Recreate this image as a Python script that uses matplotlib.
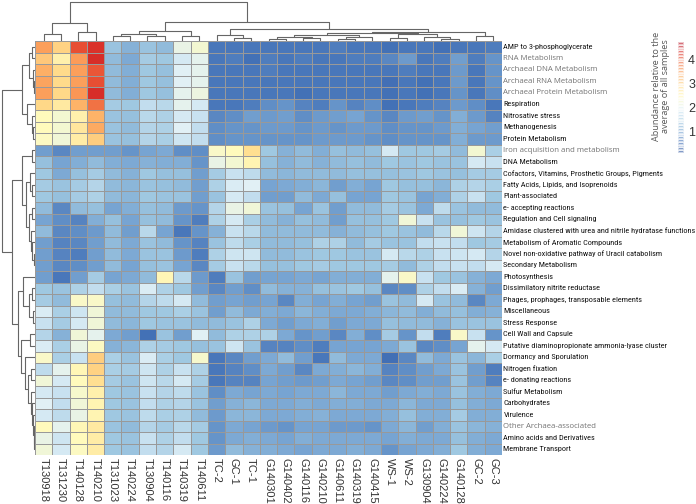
import os
import numpy as np
import matplotlib
matplotlib.use("Agg")
import matplotlib.pyplot as plt
from matplotlib.colors import LinearSegmentedColormap, Normalize
from matplotlib import font_manager as fm
from matplotlib.font_manager import FontProperties

col_labels = ["T130918", "T131230", "T140128", "T140210", "T131023", "T140224", "T130904",
              "T140116", "T140319", "T140611", "TC-2", "GC-1", "TC-1", "G140301", "G140402",
              "G140116", "G140210", "G140611", "G140319", "G140415", "WS-1", "WS-2",
              "G130904", "G140224", "G140128", "GC-2", "GC-3"]

row_labels = ["AMP to 3-phosphoglycerate", "RNA Metabolism", "Archaeal DNA Metabolism",
              "Archaeal RNA Metabolism", "Archaeal Protein Metabolism", "Respiration",
              "Nitrosative stress", "Methanogenesis", "Protein Metabolism",
              "Iron acquisition and metabolism", "DNA Metabolism",
              "Cofactors, Vitamins, Prosthetic Groups, Pigments",
              "Fatty Acids, Lipids, and Isoprenoids", "Plant-associated", "e- accepting reactions",
              "Regulation and Cell signaling",
              "Amidase clustered with urea and nitrile hydratase functions",
              "Metabolism of Aromatic Compounds",
              "Novel non-oxidative pathway of Uracil catabolism", "Secondary Metabolism",
              "Photosynthesis", "Dissimilatory nitrite reductase",
              "Phages, prophages, transposable elements", "Miscellaneous", "Stress Response",
              "Cell Wall and Capsule", "Putative diaminopropionate ammonia-lyase cluster",
              "Dormancy and Sporulation", "Nitrogen fixation", "e- donating reactions",
              "Sulfur Metabolism", "Carbohydrates", "Virulence", "Other Archaea-associated",
              "Amino acids and Derivatives", "Membrane Transport"]

gray_rows = ["RNA Metabolism", "Archaeal DNA Metabolism", "Archaeal RNA Metabolism",
             "Archaeal Protein Metabolism", "Iron acquisition and metabolism",
             "Other Archaea-associated"]

values = [
    [3.5, 3.0, 4.1, 4.3, 1.35, 1.15, 1.35, 1.25, 2.1, 2.25, 0.6, 0.6, 0.6, 0.6, 0.6, 0.6, 0.6, 0.65, 0.6, 0.6, 0.55, 0.6, 0.6, 0.55, 0.6, 0.6, 0.65],
    [3.1, 2.6, 3.55, 4.35, 1.25, 1.05, 1.45, 1.4, 1.9, 2.05, 0.6, 0.65, 0.55, 0.65, 0.6, 0.65, 0.6, 0.6, 0.65, 0.65, 0.75, 0.9, 0.6, 0.65, 0.95, 0.65, 0.85],
    [3.35, 2.9, 3.5, 4.05, 1.25, 1.1, 1.4, 1.3, 2.0, 2.05, 0.6, 0.6, 0.6, 0.65, 0.6, 0.6, 0.6, 0.6, 0.6, 0.6, 0.6, 0.65, 0.6, 0.6, 0.9, 0.6, 0.85],
    [3.45, 2.9, 3.5, 4.1, 1.25, 1.1, 1.4, 1.3, 2.0, 2.05, 0.6, 0.6, 0.6, 0.6, 0.6, 0.6, 0.6, 0.6, 0.6, 0.6, 0.5, 0.6, 0.55, 0.6, 0.9, 0.6, 0.85],
    [3.5, 2.95, 3.6, 4.35, 1.25, 1.1, 1.4, 1.3, 2.05, 2.15, 0.6, 0.6, 0.6, 0.6, 0.6, 0.55, 0.6, 0.6, 0.6, 0.6, 0.55, 0.6, 0.55, 0.6, 0.85, 0.6, 0.8],
    [2.95, 2.7, 3.3, 3.85, 1.45, 1.4, 1.75, 1.65, 2.05, 1.9, 0.6, 0.6, 0.65, 0.8, 0.85, 0.7, 0.65, 0.85, 0.7, 0.8, 0.55, 0.6, 0.65, 0.7, 0.9, 0.8, 0.6],
    [2.45, 2.25, 2.6, 3.3, 1.35, 1.3, 1.65, 1.55, 1.9, 1.8, 0.75, 0.8, 0.95, 0.9, 0.95, 0.8, 0.9, 0.95, 1.0, 0.85, 0.75, 0.9, 0.95, 0.85, 1.1, 0.9, 0.7],
    [2.45, 2.25, 2.75, 3.4, 1.35, 1.25, 1.6, 1.55, 2.0, 1.75, 0.8, 0.85, 0.85, 0.9, 0.9, 0.85, 0.9, 0.85, 0.9, 0.9, 0.8, 0.85, 0.85, 0.9, 1.1, 1.0, 0.95],
    [2.4, 2.2, 2.65, 3.05, 1.35, 1.3, 1.6, 1.5, 1.85, 1.75, 0.8, 0.85, 0.85, 0.85, 0.85, 0.85, 0.9, 0.9, 0.9, 0.85, 0.8, 0.85, 0.85, 0.85, 1.1, 0.9, 0.9],
    [0.95, 0.75, 0.95, 0.95, 0.95, 0.85, 1.0, 1.05, 0.8, 0.8, 2.35, 2.45, 2.85, 1.4, 1.15, 1.25, 1.1, 1.3, 1.25, 1.3, 1.9, 1.4, 1.4, 1.45, 1.25, 2.25, 1.5],
    [1.3, 1.0, 1.1, 1.25, 1.1, 1.05, 1.15, 1.1, 1.1, 0.85, 2.1, 2.25, 2.55, 1.3, 1.15, 1.25, 1.15, 1.25, 1.3, 1.25, 1.4, 1.35, 1.4, 1.35, 1.35, 1.9, 1.8],
    [1.4, 1.05, 1.3, 1.45, 1.25, 1.15, 1.4, 1.3, 1.3, 0.95, 1.45, 1.8, 1.7, 1.25, 1.2, 1.25, 1.25, 1.25, 1.3, 1.3, 1.3, 1.35, 1.4, 1.35, 1.3, 1.45, 1.45],
    [1.45, 1.35, 1.45, 1.6, 1.25, 1.2, 1.35, 1.3, 1.25, 0.95, 1.55, 1.95, 2.0, 1.0, 1.05, 1.1, 1.2, 0.95, 1.1, 1.0, 1.4, 1.3, 1.3, 1.2, 1.55, 1.6, 1.5],
    [1.4, 1.3, 1.45, 1.55, 1.25, 1.2, 1.4, 1.35, 1.35, 0.95, 1.35, 1.9, 1.75, 0.95, 0.95, 1.25, 1.05, 1.3, 1.0, 1.0, 1.4, 1.35, 1.0, 1.1, 1.55, 1.8, 1.4],
    [1.25, 0.75, 1.25, 1.3, 1.0, 1.1, 1.3, 1.25, 0.9, 0.85, 1.6, 2.1, 2.2, 1.35, 1.3, 1.0, 1.35, 0.95, 1.25, 1.25, 1.45, 1.35, 1.05, 1.7, 1.35, 1.25, 1.25],
    [1.0, 0.8, 0.7, 1.1, 1.3, 1.0, 1.3, 1.25, 0.85, 0.65, 1.55, 1.9, 1.5, 1.25, 1.15, 1.3, 1.25, 0.95, 1.3, 1.3, 1.4, 2.2, 1.8, 1.35, 1.3, 1.4, 1.35],
    [1.25, 0.75, 0.8, 0.9, 1.25, 0.95, 1.65, 1.0, 0.6, 0.85, 1.15, 1.8, 1.65, 1.25, 1.25, 1.25, 1.25, 1.15, 1.25, 1.3, 1.4, 1.35, 1.25, 1.65, 2.2, 1.85, 1.6],
    [0.95, 0.7, 0.75, 0.95, 1.25, 1.05, 1.35, 1.25, 0.85, 0.7, 1.35, 1.7, 1.5, 1.25, 1.25, 1.3, 1.55, 1.55, 1.25, 1.45, 1.35, 1.35, 1.75, 1.8, 1.75, 1.4, 1.45],
    [0.95, 0.7, 0.65, 0.95, 1.25, 1.05, 1.35, 1.35, 0.9, 0.65, 1.55, 1.85, 1.85, 1.25, 1.25, 1.35, 1.4, 1.4, 1.35, 1.35, 1.9, 1.65, 1.55, 1.8, 1.85, 1.9, 1.6],
    [0.95, 0.75, 0.8, 0.95, 1.25, 1.0, 1.3, 1.35, 1.0, 0.75, 1.45, 1.8, 1.65, 1.3, 1.3, 1.4, 1.45, 1.4, 1.4, 1.4, 1.45, 1.25, 1.55, 1.75, 1.8, 1.75, 1.9],
    [0.95, 0.6, 0.95, 1.45, 1.0, 1.05, 1.25, 2.5, 1.65, 0.9, 0.65, 1.35, 0.95, 1.0, 1.0, 1.05, 1.0, 1.1, 1.1, 1.1, 2.05, 2.35, 1.8, 1.4, 1.35, 1.15, 1.05],
    [1.4, 1.35, 1.55, 1.75, 1.5, 1.35, 1.95, 1.55, 1.4, 0.95, 0.75, 0.95, 0.8, 1.25, 1.15, 1.15, 1.3, 1.35, 1.4, 1.3, 0.75, 0.8, 1.55, 1.75, 1.95, 1.15, 0.95],
    [1.45, 1.25, 2.35, 2.35, 1.3, 1.25, 1.6, 1.7, 1.9, 1.25, 0.95, 1.0, 0.95, 1.0, 0.75, 1.1, 1.0, 1.1, 1.0, 0.95, 1.35, 1.25, 1.9, 1.35, 1.25, 0.75, 1.05],
    [1.95, 1.5, 1.85, 2.2, 1.25, 1.25, 1.4, 1.4, 1.5, 1.35, 0.95, 1.25, 1.05, 1.1, 1.05, 1.2, 1.1, 1.05, 1.05, 1.1, 1.2, 1.25, 1.1, 1.25, 1.3, 1.1, 1.15],
    [1.8, 1.45, 1.9, 2.2, 1.25, 1.2, 1.4, 1.35, 1.35, 1.25, 1.25, 1.35, 1.55, 1.05, 0.95, 1.05, 1.1, 0.95, 1.05, 1.05, 1.3, 1.25, 1.25, 1.15, 1.35, 1.35, 1.35],
    [1.6, 1.15, 2.2, 2.05, 1.05, 0.95, 0.55, 1.35, 0.95, 2.0, 1.25, 1.55, 1.55, 1.55, 1.05, 0.85, 0.95, 0.75, 1.1, 0.8, 1.45, 0.85, 1.75, 0.65, 2.35, 1.8, 0.85],
    [1.95, 1.5, 2.1, 2.4, 1.15, 1.2, 1.55, 1.45, 1.4, 1.3, 1.35, 1.85, 1.35, 0.7, 0.7, 0.8, 0.65, 1.0, 1.0, 1.0, 1.05, 1.35, 0.75, 0.8, 1.0, 2.05, 1.9],
    [2.35, 1.5, 1.8, 3.05, 1.5, 1.35, 1.95, 1.5, 1.4, 2.3, 0.6, 0.75, 0.95, 1.05, 1.25, 0.95, 0.6, 1.25, 1.05, 1.05, 0.5, 0.75, 1.25, 1.05, 1.35, 1.2, 1.5],
    [1.7, 2.05, 2.5, 3.0, 1.5, 1.45, 1.85, 1.55, 1.8, 1.55, 0.6, 0.7, 0.8, 1.05, 0.95, 0.75, 1.05, 1.1, 1.2, 1.1, 0.7, 0.8, 0.95, 1.05, 1.35, 0.95, 0.65],
    [2.2, 1.9, 2.45, 2.85, 1.45, 1.35, 1.85, 1.65, 1.9, 1.45, 0.6, 0.7, 0.7, 1.0, 0.95, 0.9, 0.95, 1.05, 1.0, 0.95, 0.75, 0.8, 0.95, 0.95, 1.35, 0.95, 0.7],
    [1.9, 1.8, 2.3, 2.6, 1.4, 1.35, 1.8, 1.6, 1.7, 1.35, 0.8, 1.05, 1.0, 1.05, 1.0, 1.05, 1.05, 1.2, 1.05, 1.05, 0.95, 1.05, 1.1, 1.05, 1.35, 1.1, 1.05],
    [2.0, 1.75, 2.2, 2.55, 1.4, 1.35, 1.75, 1.55, 1.6, 1.35, 0.95, 1.15, 1.2, 1.05, 1.05, 1.1, 1.05, 1.1, 1.1, 1.05, 1.05, 1.2, 1.05, 1.05, 1.3, 1.1, 1.05],
    [1.9, 1.7, 2.1, 2.55, 1.4, 1.35, 1.7, 1.5, 1.55, 1.25, 0.9, 1.2, 1.2, 1.05, 1.05, 1.1, 1.15, 1.05, 1.05, 1.05, 1.1, 1.3, 1.1, 1.1, 1.45, 1.1, 1.1],
    [2.45, 2.05, 2.5, 2.7, 1.35, 1.25, 1.6, 1.45, 1.65, 1.45, 0.85, 1.05, 1.0, 0.9, 0.85, 1.0, 1.0, 0.9, 0.9, 0.85, 1.05, 1.2, 0.95, 1.1, 1.35, 1.2, 1.15],
    [2.1, 1.85, 2.45, 2.65, 1.4, 1.35, 1.8, 1.55, 1.75, 1.4, 0.85, 1.05, 1.1, 1.05, 1.0, 1.1, 1.05, 1.05, 1.05, 1.05, 1.0, 1.1, 1.05, 1.05, 1.3, 1.1, 1.05],
    [2.2, 1.9, 2.4, 2.65, 1.4, 1.35, 1.75, 1.6, 1.9, 1.4, 0.9, 1.25, 1.15, 1.1, 1.05, 1.0, 1.05, 1.05, 1.1, 1.05, 0.85, 1.0, 1.05, 1.1, 1.4, 1.1, 1.05],
]

# dendrograms: internal node = [height, left, right]; leaves = index
col_tree = [39,
            [18, [7, 0, 1], [9, 2, 3]],
            [19,
             [10, [7, [4.7, 4, 5], [4.7, 6, 7]], [5.3, 8, 9]],
             [12,
              [6, 10, [3.3, 11, 12]],
              [9.3,
               [7.7,
                [6, [4, [2, 13, 14], [3, 15, 16]], [4, [2, 17, 18], 19]],
                [6.7, [3, 20, 21], [4, 22, [2.5, 23, 24]]]],
               [5, 25, 26]]]]]

row_tree = [33,
            [13.3, [5.7, [3, 0, 1], [2, 2, [1, 3, 4]]], [8.3, 5, [3, 6, [2, 7, 8]]]],
            [23,
             [13, [3, 9, 10],
              [9, [5, 11, [3, 12, 13]],
               [6, [3, 14, 15], [4, 16, [3, 17, [1.5, 18, 19]]]]]],
             [17.5,
              [12, 20, [6, [3, 21, 22], [2.5, 23, 24]]],
              [14, [5, 25, 26],
               [10, 27, [7, [4, 28, 29],
                         [4, 30, [3, 31, [2.5, 32, [1.5, 33, [1, 34, 35]]]]]]]]]]]

cbar_ticks = [1, 2, 3, 4]
vmin, vmax = 0.1, 4.75

# ---------------------------------------------------------------------------
def find_narrow_font():
    prefs = ["liberation sans narrow", "roboto condensed", "open sans condensed",
             "noto sans condensed", "dejavu sans condensed", "lato condensed"]
    bad = ["bold", "italic", "oblique", "light", "thin", "black", "medium", "semibold",
           "extrabold", "mono", "semicondensed", "extracondensed", "ultracondensed"]
    found = {}
    for f in fm.fontManager.ttflist:
        base = os.path.basename(f.fname).lower().replace("-", "").replace("_", "")
        if any(b in base for b in bad):
            continue
        full = (f.name + " " + base).lower()
        cond = ("condensed" in full or "narrow" in full or
                str(f.stretch) in ("condensed",))
        if not cond:
            continue
        key = f.name.lower()
        for p in prefs:
            if p.split()[0] in key and p not in found:
                found[p] = f.fname
    for p in prefs:
        if p in found:
            return found[p]
    return None


narrow_path = find_narrow_font()

anchors = [(0.1, (45, 85, 160)), (0.55, (68, 114, 183)), (1.0, (120, 165, 210)),
           (1.4, (160, 200, 225)), (1.8, (200, 225, 240)), (2.0, (225, 240, 245)),
           (2.2, (240, 246, 215)), (2.45, (255, 250, 188)), (2.9, (255, 220, 140)),
           (3.3, (253, 180, 105)), (3.6, (250, 150, 85)), (4.1, (232, 80, 52)),
           (4.35, (215, 45, 40)), (4.75, (180, 15, 35))]
cmap = LinearSegmentedColormap.from_list(
    "abund", [((v - vmin) / (vmax - vmin), tuple(c / 255 for c in rgb)) for v, rgb in anchors])
norm = Normalize(vmin, vmax)

W, H = 696, 504
fig = plt.figure(figsize=(W / 100, H / 100), dpi=100)
renderer = fig.canvas.get_renderer()


def px_axes(x0, y0, x1, y1):
    return fig.add_axes([x0 / W, 1 - y1 / H, (x1 - x0) / W, (y1 - y0) / H])


def fit_size(text, fp, target_px, maxsize):
    fp = fp.copy()
    fp.set_size(10)
    t = fig.text(0, 0, text, fontproperties=fp)
    w = t.get_window_extent(renderer).width
    t.remove()
    return min(maxsize, 10 * target_px / w)


if narrow_path:
    black_fp = FontProperties(fname=narrow_path)
else:
    black_fp = FontProperties(family=["Liberation Sans", "DejaVu Sans"])
black_size = fit_size("Amidase clustered with urea and nitrile hydratase functions",
                      black_fp, 191, 7.2)
black_fp.set_size(black_size)

gray_fp = FontProperties(family=["Open Sans", "DejaVu Sans"])
gray_size = fit_size("Archaeal Protein Metabolism", gray_fp, 104, 7.0)
gray_fp.set_size(gray_size)

hx0, hy0, hx1, hy1 = 35, 41, 502, 455
data = np.array(values)
nr, nc = data.shape

ax = px_axes(hx0, hy0, hx1, hy1)
ax.pcolormesh(np.arange(nc + 1), np.arange(nr + 1), data, cmap=cmap, norm=norm,
              edgecolors=(0.6, 0.6, 0.6), linewidth=0.6)
ax.set_xlim(0, nc)
ax.set_ylim(nr, 0)
ax.set_xticks([])
ax.set_yticks([])
for s in ax.spines.values():
    s.set_visible(False)

for i, lab in enumerate(row_labels):
    if lab in gray_rows:
        ax.text(nc + 0.08, i + 0.5, lab, va="center", ha="left", fontproperties=gray_fp,
                color=(0.45, 0.45, 0.45))
    else:
        ax.text(nc + 0.08, i + 0.5, lab, va="center", ha="left", fontproperties=black_fp,
                color=(0.08, 0.08, 0.08))

for j, lab in enumerate(col_labels):
    ax.text(j + 0.5, nr + 0.25, lab, rotation=-90, va="top", ha="center", fontsize=8,
            color=(0.2, 0.2, 0.2), family=["Liberation Sans", "DejaVu Sans"])


def layout(node, segs):
    if isinstance(node, int):
        return node + 0.5, 0.0
    h, l, r = node
    xl, hl = layout(l, segs)
    xr, hr = layout(r, segs)
    segs.append(([xl, xl, xr, xr], [hl, h, h, hr]))
    return (xl + xr) / 2, h


dcol = (0.4, 0.4, 0.4)
axc = px_axes(hx0, 0, hx1, hy0)
segs = []
layout(col_tree, segs)
for xs, hs in segs:
    axc.plot(xs, hs, color=dcol, lw=0.8, solid_capstyle="butt")
axc.set_xlim(0, nc)
axc.set_ylim(0, hy0)
axc.axis("off")

axr = px_axes(0, hy0, hx0, hy1)
segs = []
layout(row_tree, segs)
for ys, hs in segs:
    axr.plot(hs, ys, color=dcol, lw=0.8, solid_capstyle="butt")
axr.set_ylim(nr, 0)
axr.set_xlim(hx0, 0)
axr.axis("off")

# colour bar
cax = px_axes(678, 42, 684, 153)
levels = np.linspace(vmin, vmax, 41)
mids = (levels[:-1] + levels[1:]) / 2
cax.pcolormesh([0, 1], levels, mids[:, None], cmap=cmap, norm=norm, alpha=0.6,
               edgecolors="white", linewidth=0.25)
cax.set_xlim(0, 1)
cax.set_ylim(vmin, vmax)
cax.set_xticks([])
cax.yaxis.tick_right()
cax.set_yticks(cbar_ticks)
cax.set_yticklabels([str(t) for t in cbar_ticks], fontsize=9, color=(0.2, 0.2, 0.2),
                    family=["Liberation Sans", "DejaVu Sans"])
cax.tick_params(axis="y", length=0, pad=3)
for s in cax.spines.values():
    s.set_visible(False)
fig.text(661 / W, 1 - 86 / H, "Abundance relative to the\naverage of all samples",
         rotation=90, ha="center", va="center", fontsize=6.6, color=(0.35, 0.35, 0.35),
         linespacing=1.05, family=["Open Sans", "DejaVu Sans"])

fig.savefig("out.png", dpi=100)
